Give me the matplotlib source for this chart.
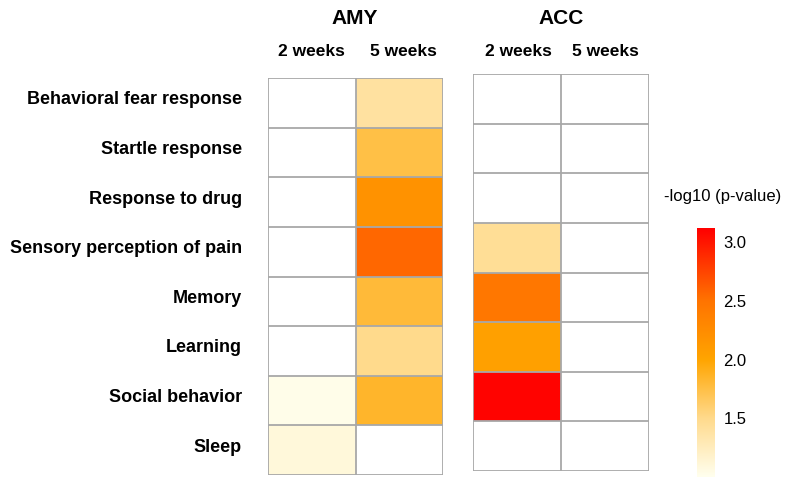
import numpy as np
import matplotlib
matplotlib.use("Agg")
from matplotlib import pyplot as plt
from matplotlib.colors import LinearSegmentedColormap

plt.rcParams['font.family'] = ['Liberation Sans', 'DejaVu Sans']

terms = ["Behavioral fear response", "Startle response", "Response to drug",
         "Sensory perception of pain", "Memory", "Learning", "Social behavior", "Sleep"]
timepoints = ["2 weeks", "5 weeks"]
nan = np.nan
# -log10(p-value), NaN = not significant
amy_2w = [nan, nan, nan, nan, nan, nan, 1.03, 1.1]
amy_5w = [1.4, 1.75, 2.2, 2.57, 1.8, 1.5, 1.85, nan]
acc_2w = [nan, nan, nan, 1.45, 2.47, 2.05, 3.1, nan]
acc_5w = [nan, nan, nan, nan, nan, nan, nan, nan]
vmin, vmax = 1.0, 3.12
cbar_ticks = [1.5, 2.0, 2.5, 3.0]

cmap = LinearSegmentedColormap.from_list("pv", [
    (0.0, "#ffffee"),
    ((1.5 - vmin) / (vmax - vmin), "#ffda8c"),
    ((2.0 - vmin) / (vmax - vmin), "#ffa500"),
    ((2.5 - vmin) / (vmax - vmin), "#ff7400"),
    (1.0, "#ff0000"),
])
cmap.set_bad("white")

fig = plt.figure(figsize=(7.85, 4.8), dpi=100)
W, H = 785, 480


def px_axes(x0, y0, x1, y1):
    return fig.add_axes([x0 / W, 1 - y1 / H, (x1 - x0) / W, (y1 - y0) / H])


def draw_grid(ax, cols):
    data = np.ma.masked_invalid(np.array(cols).T)
    ax.pcolormesh(data, cmap=cmap, vmin=vmin, vmax=vmax)
    n = data.shape[0]
    ax.set_xlim(0, 2)
    ax.set_ylim(n, 0)
    for i in range(n + 1):
        ax.axhline(i, color="#a8a8a8", lw=1.3, zorder=3)
    for j in range(3):
        ax.axvline(j, color="#a8a8a8", lw=1.3, zorder=3)
    ax.set_xticks([])
    ax.set_yticks([])
    for s in ax.spines.values():
        s.set_visible(False)
    return ax


ax1 = px_axes(268, 78, 443, 475)
draw_grid(ax1, [amy_2w, amy_5w])
ax2 = px_axes(473, 74, 649, 471)
draw_grid(ax2, [acc_2w, acc_5w])

# region titles and timepoint headers
for cx, title, subx in [(355, "AMY", (311, 403)), (561, "ACC", (518, 605))]:
    fig.text(cx / W, 1 - 18 / H, title, ha="center", va="center", fontsize=15, fontweight="bold")
    for sx, t in zip(subx, timepoints):
        fig.text(sx / W, 1 - 52 / H, t, ha="center", va="center", fontsize=12.5, fontweight="bold")

for i, t in enumerate(terms):
    ax1.text(-0.30, i + 0.44, t, ha="right", va="center", fontsize=13, fontweight="bold")

cax = px_axes(697, 228, 715, 477)
grad = np.linspace(vmin, vmax, 256).reshape(-1, 1)
cax.imshow(grad, aspect="auto", cmap=cmap, vmin=vmin, vmax=vmax, origin="lower",
           extent=[0, 1, vmin, vmax])
cax.set_xticks([])
cax.yaxis.tick_right()
cax.set_yticks(cbar_ticks)
cax.set_yticklabels([f"{v:.1f}" for v in cbar_ticks], fontsize=12)
cax.tick_params(axis="y", length=0, pad=6)
for s in cax.spines.values():
    s.set_visible(False)
fig.text(723 / W, 1 - 197 / H, "-log10 (p-value)", ha="center", va="center", fontsize=12)

fig.savefig("out.png", dpi=100, facecolor="white")
